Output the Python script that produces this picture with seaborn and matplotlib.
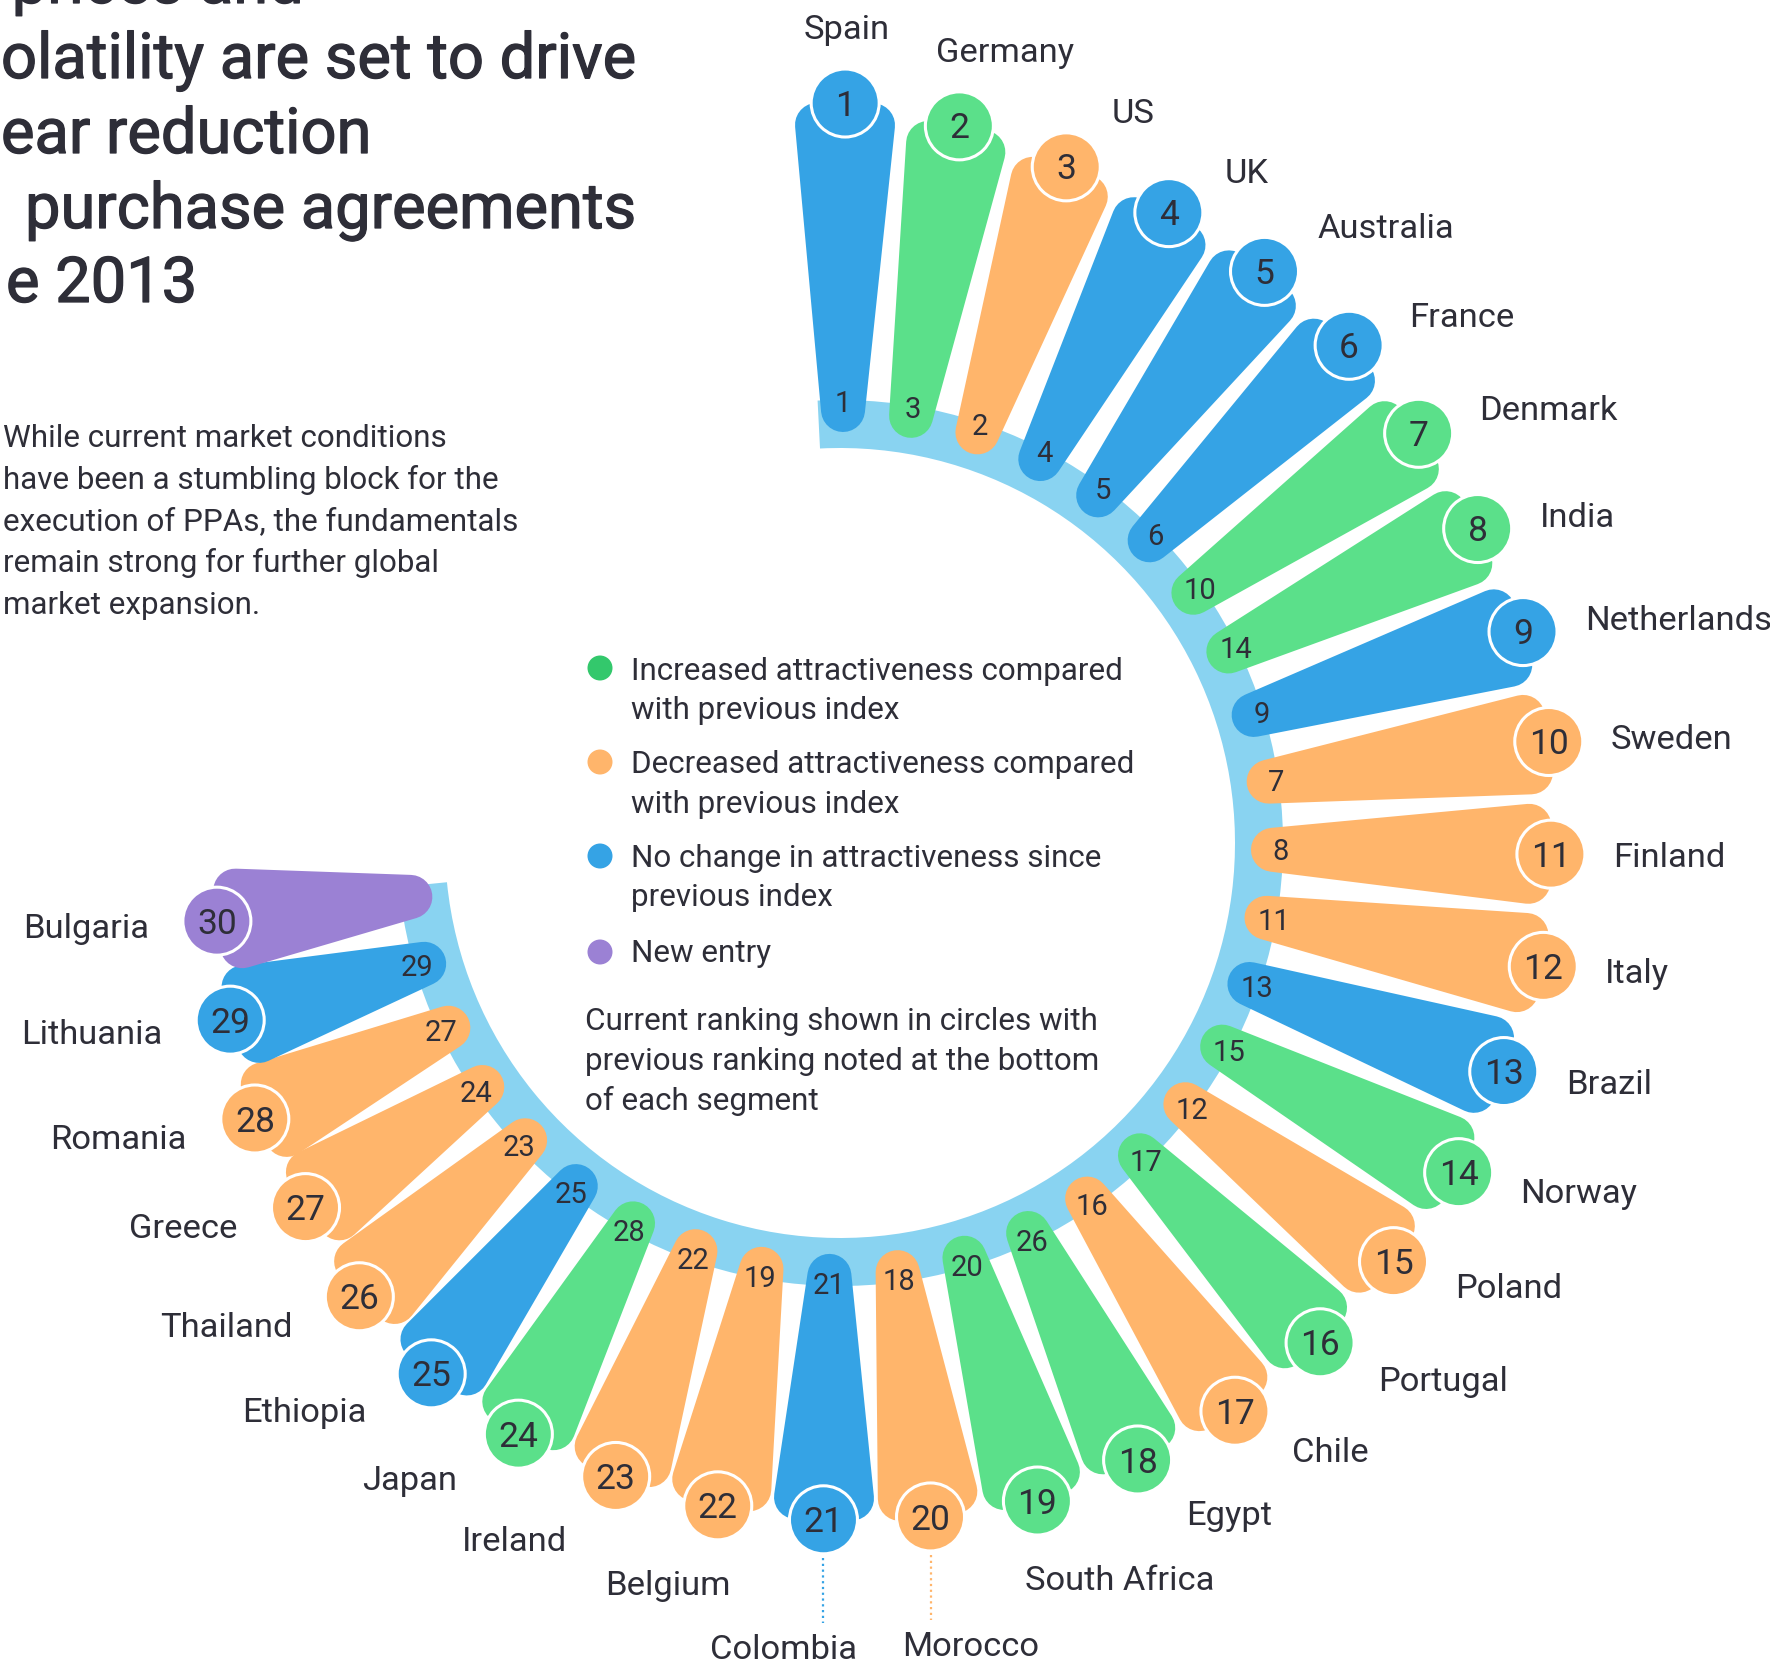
import numpy as np
import pandas as pd
import matplotlib.pyplot as plt
import matplotlib.patheffects as pe
import seaborn as sns
from matplotlib.patches import Polygon, Wedge

W, H = 1770, 1663

countries = ["Spain", "Germany", "US", "UK", "Australia", "France", "Denmark", "India",
             "Netherlands", "Sweden", "Finland", "Italy", "Brazil", "Norway", "Poland",
             "Portugal", "Chile", "Egypt", "South Africa", "Morocco", "Colombia", "Belgium",
             "Ireland", "Japan", "Ethiopia", "Thailand", "Greece", "Romania", "Lithuania",
             "Bulgaria"]
current_rank = list(range(1, 31))
previous_rank = [1, 3, 2, 4, 5, 6, 10, 14, 9, 7, 8, 11, 13, 15, 12, 17, 16, 26, 20, 18,
                 21, 19, 22, 28, 25, 23, 24, 27, 29, None]
# segment reach (relative units)
score = [74.0, 72.7, 71.3, 71.1, 71.2, 71.2, 70.9, 71.1, 71.5, 71.6, 71.1, 71.4, 70.2,
         70.1, 69.4, 69.3, 69.2, 68.5, 68.7, 68.0, 67.7, 67.4, 67.2, 67.3, 67.0, 66.1,
         64.7, 64.7, 63.5, 62.8]

# the page is cropped: only these parts of the headline are visible
title_lines = ["prices and", "olatility are set to drive", "ear reduction",
               "purchase agreements", "e 2013"]
intro_lines = ["While current market conditions", "have been a stumbling block for the",
               "execution of PPAs, the fundamentals", "remain strong for further global",
               "market expansion."]
legend_status = ["up", "down", "same", "new"]
legend_lines = [["Increased attractiveness compared", "with previous index"],
                ["Decreased attractiveness compared", "with previous index"],
                ["No change in attractiveness since", "previous index"],
                ["New entry"]]
note_lines = ["Current ranking shown in circles with",
              "previous ranking noted at the bottom", "of each segment"]

palette = {"up": "#5be08a", "down": "#ffb56b", "same": "#35a3e5", "new": "#9b81d4"}
legend_palette = {"up": "#33c86c", "down": "#ffb56b", "same": "#35a3e5", "new": "#9b81d4"}
RING = "#89d3f1"
TXT = "#2e2e38"

# layout (pixels)
CX, CY = 840, H - 843
RING_IN, RING_OUT = 395, 443
START, STEP = 89.6, 9.05
PX_PER_UNIT = 10
BAR_BASE, CAP, HALF_OUT = 433, 22, 50
PT = 0.72  # points per pixel at dpi 100


def status_of(cur, prev):
    if prev is None:
        return "new"
    if prev > cur:
        return "up"
    if prev < cur:
        return "down"
    return "same"


df = pd.DataFrame({"country": countries, "rank": current_rank,
                   "prev": previous_rank, "score": score})
df["status"] = [status_of(c, p) for c, p in zip(current_rank, previous_rank)]
df["theta"] = START - STEP * np.arange(len(df))
df["reach"] = df["score"] * PX_PER_UNIT
th = np.radians(df["theta"])
df["x"] = CX + df["reach"] * np.cos(th)
df["y"] = CY + df["reach"] * np.sin(th)

sns.set_theme(style="white")
plt.rcParams["font.family"] = ["Roboto", "DejaVu Sans"]

fig = plt.figure(figsize=(W / 100, H / 100), dpi=100)
ax = fig.add_axes([0, 0, 1, 1])

ax.add_patch(Wedge((CX, CY), RING_OUT, -174.3, 92.9, width=RING_OUT - RING_IN,
                   fc=RING, ec="none", zorder=1))

for _, row in df.iterrows():
    t = np.radians(row["theta"])
    u = np.array([np.cos(t), np.sin(t)])
    n = np.array([-np.sin(t), np.cos(t)])
    c = np.array([CX, CY])
    p0 = c + BAR_BASE * u
    p1 = c + (row["reach"] - CAP) * u + (HALF_OUT - CAP) * n
    p2 = c + (row["reach"] - CAP) * u - (HALF_OUT - CAP) * n
    col = palette[row["status"]]
    ax.add_patch(Polygon([p0, p1, p2], closed=True, fc=col, ec=col,
                         lw=2 * CAP * PT, joinstyle="round", zorder=2))
    if row["prev"] is not None and not pd.isna(row["prev"]):
        px, py = c + 441 * u
        ax.text(px, py - 0.355 * 21 / PT, str(int(row["prev"])), fontsize=21,
                color=TXT, ha="center", va="baseline", zorder=3)

sns.scatterplot(data=df, x="x", y="y", hue="status", palette=palette, s=(68 * PT) ** 2,
                edgecolor="white", linewidth=2.2, legend=False, ax=ax, zorder=4)

for _, row in df.iterrows():
    ax.text(row["x"], row["y"] - 0.355 * 25.5 / PT, str(row["rank"]), fontsize=25.5,
            color=TXT, ha="center", va="baseline", zorder=5)

# country labels, pushed out from each circle
renderer = fig.canvas.get_renderer()
LBL = 24.8
em = LBL / PT
squash = 0.28
for _, row in df.iterrows():
    t = np.radians(row["theta"])
    lab = ax.text(0, 0, row["country"], fontsize=LBL, color=TXT, ha="center",
                  va="baseline", zorder=5)
    if abs(row["theta"] + 90) < 9.5:
        side = 1 if np.cos(t) > 0 else -1
        lx, ly = row["x"] + 40 * side, row["y"] - 127
        ax.plot([row["x"], row["x"]], [row["y"] - 38, row["y"] - 103],
                ls=(0, (1, 1.6)), lw=1.6, color=palette[row["status"]], zorder=1)
    else:
        left_low = np.cos(t) < -0.2
        gap = 35 + (33 if left_low else 27)
        sq = 0.22 if (left_low and np.sin(t) < -0.5) else squash
        a = lab.get_window_extent(renderer).width / 2
        b = 0.42 * em
        phi = np.arctan2(sq * np.sin(t), np.cos(t))
        ux, uy = np.cos(phi), np.sin(phi)
        lo, hi = 0.0, 500.0
        for _ in range(40):
            mid = (lo + hi) / 2
            d = np.hypot(max(abs(mid * ux) - a, 0), max(abs(mid * uy) - b, 0))
            if d < gap:
                lo = mid
            else:
                hi = mid
        lx, ly = row["x"] + hi * ux, row["y"] + hi * uy
    lab.set_position((lx, ly - 0.355 * em))

# headline, cropped by the page edge as in the source
thick = [pe.withStroke(linewidth=0.9, foreground=TXT)]
ax.text(304, H - 3, title_lines[0], fontsize=45.5, color=TXT, ha="right",
        va="baseline", path_effects=thick)
title_left = [1, 1, 25, 6]
title_base = [78, 153, 228, 302]
for txt, xl, yb in zip(title_lines[1:], title_left, title_base):
    ax.text(xl, H - yb, txt, fontsize=45.5, color=TXT, ha="left", va="baseline",
            path_effects=thick)

for i, txt in enumerate(intro_lines):
    ax.text(3, H - (447 + 41.7 * i), txt, fontsize=22.6, color=TXT, ha="left",
            va="baseline")

# legend
leg_y = [668, 762, 856, 952]
leg_base = [[680, 719], [773, 813], [867, 906], [962]]
leg_df = pd.DataFrame({"x": [600] * 4, "y": [H - v for v in leg_y], "status": legend_status})
sns.scatterplot(data=leg_df, x="x", y="y", hue="status", palette=legend_palette,
                s=(25 * PT) ** 2, edgecolor="none", legend=False, ax=ax, zorder=4)
for lines, bases in zip(legend_lines, leg_base):
    for txt, yb in zip(lines, bases):
        ax.text(631, H - yb, txt, fontsize=22.6, color=TXT, ha="left", va="baseline")
for i, txt in enumerate(note_lines):
    ax.text(585, H - (1030 + 40 * i), txt, fontsize=22.6, color=TXT, ha="left",
            va="baseline")

ax.set_xlim(0, W)
ax.set_ylim(0, H)
ax.set_aspect("equal")
ax.axis("off")

fig.savefig("out.png", dpi=100, facecolor="white")
plt.close(fig)
